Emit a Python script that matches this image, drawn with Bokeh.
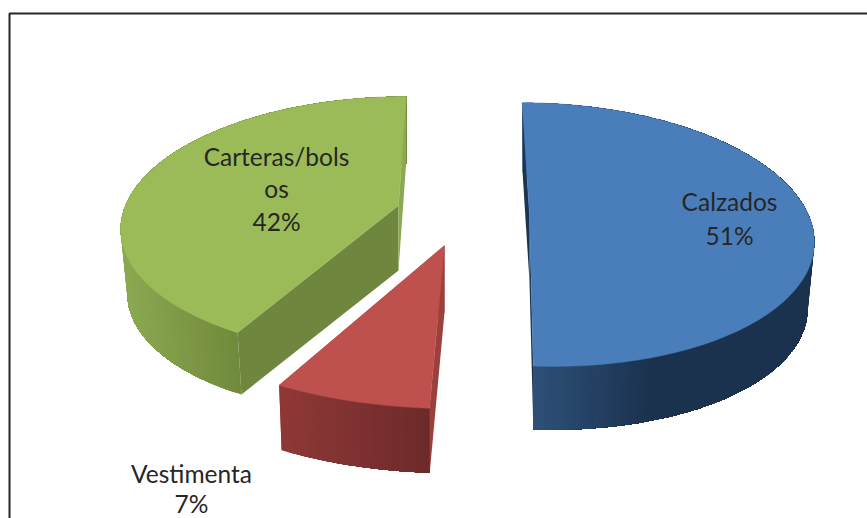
import math
from bokeh.plotting import figure
from bokeh.models import Range1d, ColumnDataSource
from bokeh.core.properties import value
from bokeh.embed import file_html
from bokeh.resources import INLINE

# data
categories = ["Calzados", "Vestimenta", "Carteras/bols\nos"]
shares = [51, 7, 42]

# look
top_colors = ["#4A7EBB", "#BE504D", "#9BBB59"]
wall_a = ["#1B3550", "#9C403D", "#6E863D"]   # wall of the radius where the slice starts
wall_b = ["#1B3550", "#9C403D", "#8CA850"]   # wall of the radius where the slice ends
wall_b_in_front = [False, False, True]
side_from = ["#2E5079", "#8E3836", "#8BA850"]
side_to = ["#1B324F", "#6C2A2A", "#70893C"]
side_x = [(533, 650), (284, 430), (125, 240)]
apex = [(535, 214), (444, 245), (398, 205)]
hub_dx = [-6, 0, 0]
scale_x = [0.992, 1.126, 0.993]
scale_y = [1.025, 1.10, 1.0]
skew = [-15.4, -6.0, 9.0]
drop = [67, 67, 65]
shrink = [0.976, 0.985, 0.976]
label_at = [(729, 200.5, 234.5), (191, 472.5, 503), (276, 155.5, 220.5)]

A, B, P = 275.0, 125.6, 0.1525


def proj(i, th, low=False):
    X, Y = math.sin(th), math.cos(th)
    w = 1 + P * Y
    dx = scale_x[i] * (A * X + skew[i] * Y) / w
    dy = -scale_y[i] * B * Y / w
    if low:
        return apex[i][0] + shrink[i] * dx, apex[i][1] + drop[i] + shrink[i] * dy
    return apex[i][0] + dx, apex[i][1] + dy


def mix(c0, c1, t):
    t = max(0.0, min(1.0, t))
    a = [int(c0[j:j + 2], 16) for j in (1, 3, 5)]
    b = [int(c1[j:j + 2], 16) for j in (1, 3, 5)]
    return "#%02x%02x%02x" % tuple(round(u + (v - u) * t) for u, v in zip(a, b))


p = figure(width=867, height=518, x_range=Range1d(0, 867), y_range=Range1d(518, 0),
           output_backend="svg", toolbar_location=None, min_border=0, outline_line_color=None)
p.xaxis.visible = False
p.yaxis.visible = False
p.grid.visible = False
p.background_fill_color = "white"

# frame of the chart area
p.line([9, 9, 867], [518, 13, 13], line_color="#262626", line_width=2)

total = sum(shares)
start = 0.0
for i, share in enumerate(shares):
    t0 = start
    t1 = start + 2 * math.pi * share / total
    start = t1
    ax, ay = apex[i][0] + hub_dx[i], apex[i][1]
    n = max(8, int(math.degrees(t1 - t0)))
    ths = [t0 + (t1 - t0) * j / n for j in range(n + 1)]

    r0, r0l = proj(i, t0), proj(i, t0, True)
    r1, r1l = proj(i, t1), proj(i, t1, True)
    al = (ax, ay + drop[i])

    def draw_wall_b():
        p.patch([r1[0], ax, al[0], r1l[0]], [r1[1], ay, al[1], r1l[1]],
                fill_color=wall_b[i], line_color=None)

    if not wall_b_in_front[i]:
        draw_wall_b()

    # curved side: each band reaches to the far end of the arc, so that no seams show
    order = list(range(n)) if r0[0] < r1[0] else list(range(n - 1, -1, -1))
    sx, sy, sc = [], [], []
    for k in order:
        idx = range(k, n + 1) if order[0] == 0 else range(0, k + 2)
        up = [proj(i, ths[j]) for j in idx]
        lo = [proj(i, ths[j], True) for j in idx]
        sx.append([q[0] for q in up] + [q[0] for q in reversed(lo)])
        sy.append([q[1] for q in up] + [q[1] for q in reversed(lo)])
        mid = (proj(i, ths[k])[0] + proj(i, ths[k + 1])[0]) / 2
        sc.append(mix(side_from[i], side_to[i], (mid - side_x[i][0]) / (side_x[i][1] - side_x[i][0])))
    p.patches("x", "y", fill_color="c", line_color=None,
              source=ColumnDataSource(dict(x=sx, y=sy, c=sc)))

    # walls in front of the curved side
    p.patch([r0[0], ax, al[0], r0l[0]], [r0[1], ay, al[1], r0l[1]],
            fill_color=wall_a[i], line_color=None)
    if wall_b_in_front[i]:
        draw_wall_b()

    # top face
    rim = [proj(i, t) for t in ths]
    p.patch([ax] + [q[0] for q in rim], [ay] + [q[1] for q in rim],
            fill_color=top_colors[i], line_color=top_colors[i], line_width=0.5)

# labels
for i, name in enumerate(categories):
    x, y0, y1 = label_at[i]
    parts = name.split("\n") + ["%d%%" % shares[i]]
    for j, part in enumerate(parts):
        y = y0 + (y1 - y0) * j / (len(parts) - 1)
        p.text([x], [y], text=[part], text_align="center", text_baseline="middle",
               text_color="#262626", text_font=value("Lato"), text_font_size="24.5px")

open("out.html", "w").write(file_html(p, INLINE))
